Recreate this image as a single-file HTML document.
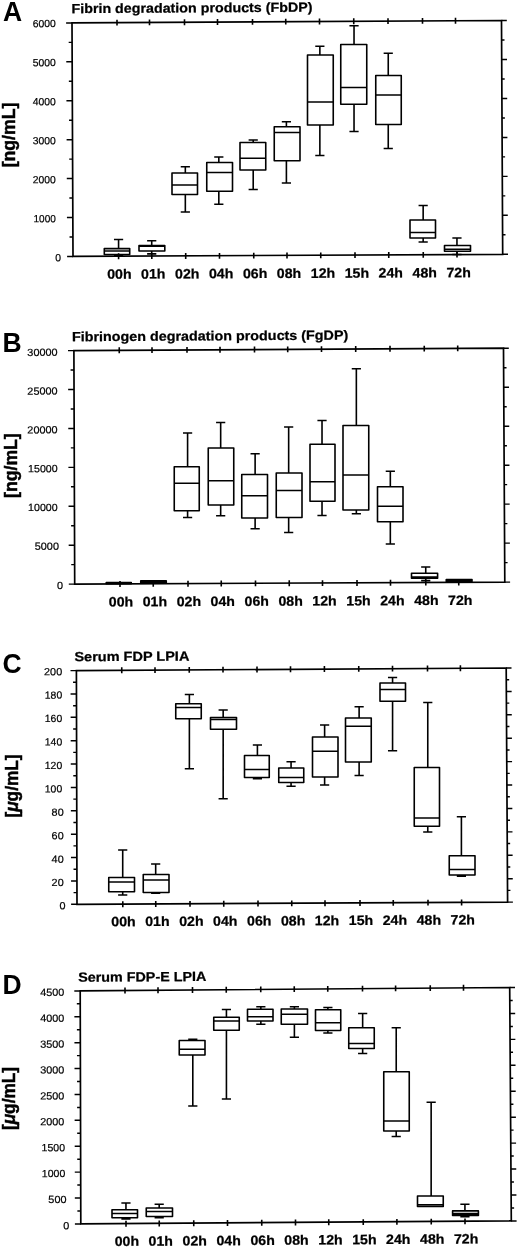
<!DOCTYPE html>
<html lang="en">
<head>
<meta charset="utf-8">
<title>Figure: FbDP, FgDP, Serum FDP LPIA, Serum FDP-E LPIA</title>
<style>
html,body{margin:0;padding:0;background:#fff;}
body{width:520px;height:1248px;overflow:hidden;}
svg{display:block;will-change:transform;filter:blur(0.35px);}
svg text{font-family:"Liberation Sans", Arial, Helvetica, sans-serif;fill:#000;}
</style>
</head>
<body>
<svg width="520" height="1248" viewBox="0 0 520 1248">
<rect x="0" y="0" width="520" height="1248" fill="#fff"/>
<g>
<path d="M72 22.9L501.5 20.5L502.7 254.3L73 256.4Z" fill="none" stroke="#000" stroke-width="1.7" stroke-linejoin="miter"/>
<path d="M67.1 256.4H73M502.7 254.3H508M69.52 236.94H72.92M502.6 234.82H505.5M66.93 217.48H72.83M502.5 215.33H507.8M69.35 198.02H72.75M502.4 195.85H505.3M66.77 178.57H72.67M502.3 176.37H507.6M69.18 159.11H72.58M502.2 156.88H505.1M66.6 139.65H72.5M502.1 137.4H507.4M69.02 120.19H72.42M502 117.92H504.9M66.43 100.73H72.33M501.9 98.43H507.2M68.85 81.28H72.25M501.8 78.95H504.7M66.27 61.82H72.17M501.7 59.47H507M68.68 42.36H72.08M501.6 39.98H504.5M66.1 22.9H72M501.5 20.5H506.8" fill="none" stroke="#000" stroke-width="1.45"/>
<path d="M117 19.65V25.55M118.6 253.37V259.27M149.5 19.47V25.37M151.8 253.21V259.11M184.5 19.27V25.17M185.7 253.05V258.95M217.5 19.09V24.99M219.5 252.88V258.78M252.5 18.89V24.79M253.75 252.71V258.61M285.75 18.71V24.61M287 252.55V258.45M319.5 18.52V24.42M320.75 252.39V258.29M353.75 18.33V24.23M355 252.22V258.12M388 18.14V24.04M388.75 252.05V257.95M422.5 17.94V23.84M423.25 251.89V257.79M455.5 17.76V23.66M457 251.72V257.62" fill="none" stroke="#000" stroke-width="1.6"/>
<path d="M104.3 248.6H129.7V254.5H104.3ZM104.3 251H129.7M118.57 248.6V239.5M113.97 239.5H123.17M118.57 254.5V255.8M113.97 255.8H123.17M139 245.5H164.8V251H139ZM139 246.2H164.8M151.72 245.5V240.7M147.12 240.7H156.32M151.72 251V253.9M147.12 253.9H156.32M172 173H197.5V194.5H172ZM172 185H197.5M185.33 173V166.75M180.73 166.75H189.93M185.33 194.5V212M180.73 212H189.93M206.75 162.5H232.5V191.25H206.75ZM206.75 172.5H232.5M218.82 162.5V157M214.22 157H223.42M218.82 191.25V204.25M214.22 204.25H223.42M240 142.5H265.75V170H240ZM240 158.25H265.75M253.21 142.5V140M248.61 140H257.81M253.21 170V189.5M248.61 189.5H257.81M274.25 126.75H300V160.75H274.25ZM274.25 132.5H300M286.4 126.75V121.75M281.8 121.75H291M286.4 160.75V183M281.8 183H291M307.5 55H333.25V125H307.5ZM307.5 102H333.25M319.86 55V46.25M315.26 46.25H324.46M319.86 125V155.5M315.26 155.5H324.46M340.75 44.5H366.75V104.25H340.75ZM340.75 87.5H366.75M354.03 44.5V25.75M349.43 25.75H358.63M354.03 104.25V131.5M349.43 131.5H358.63M375.75 75.5H401.25V124.5H375.75ZM375.75 95H401.25M388.25 75.5V53.25M383.65 53.25H392.85M388.25 124.5V148.5M383.65 148.5H392.85M410 220H435.5V238H410ZM410 232.5H435.5M423.16 220V205.5M418.56 205.5H427.76M423.16 238V242M418.56 242H427.76M444.5 245.5H470.5V251.25H444.5ZM444.5 249.25H470.5M456.95 245.5V238M452.35 238H461.55M456.95 251.25V254.5M452.35 254.5H461.55" fill="none" stroke="#000" stroke-width="1.6" stroke-linejoin="round"/>
<g font-size="10.4" text-anchor="end" stroke="#000" stroke-width="0.2"><text x="61.1" y="261.2" transform="rotate(-0.33 61.1 261.2)" textLength="5.8" lengthAdjust="spacingAndGlyphs">0</text><text x="55.9" y="222.18" transform="rotate(-0.33 55.9 222.18)" textLength="22.5" lengthAdjust="spacingAndGlyphs">1000</text><text x="55.9" y="183.15" transform="rotate(-0.33 55.9 183.15)" textLength="23.2" lengthAdjust="spacingAndGlyphs">2000</text><text x="55.9" y="144.12" transform="rotate(-0.33 55.9 144.12)" textLength="23.2" lengthAdjust="spacingAndGlyphs">3000</text><text x="55.9" y="105.1" transform="rotate(-0.33 55.9 105.1)" textLength="23.2" lengthAdjust="spacingAndGlyphs">4000</text><text x="55.9" y="66.08" transform="rotate(-0.33 55.9 66.08)" textLength="23.2" lengthAdjust="spacingAndGlyphs">5000</text><text x="55.9" y="27.05" transform="rotate(-0.33 55.9 27.05)" textLength="23.2" lengthAdjust="spacingAndGlyphs">6000</text></g>
<g font-size="13.6" font-weight="bold" text-anchor="middle" stroke="#000" stroke-width="0.25" transform="rotate(-0.262 110 278.8)"><text x="119.4" y="278.8" textLength="24.4" lengthAdjust="spacingAndGlyphs">00h</text><text x="153.33" y="278.8" textLength="24.4" lengthAdjust="spacingAndGlyphs">01h</text><text x="187.26" y="278.8" textLength="24.4" lengthAdjust="spacingAndGlyphs">02h</text><text x="221.19" y="278.8" textLength="24.4" lengthAdjust="spacingAndGlyphs">04h</text><text x="255.12" y="278.8" textLength="24.4" lengthAdjust="spacingAndGlyphs">06h</text><text x="289.05" y="278.8" textLength="24.4" lengthAdjust="spacingAndGlyphs">08h</text><text x="322.98" y="278.8" textLength="24.4" lengthAdjust="spacingAndGlyphs">12h</text><text x="356.91" y="278.8" textLength="24.4" lengthAdjust="spacingAndGlyphs">15h</text><text x="390.84" y="278.8" textLength="24.4" lengthAdjust="spacingAndGlyphs">24h</text><text x="424.77" y="278.8" textLength="24.4" lengthAdjust="spacingAndGlyphs">48h</text><text x="458.7" y="278.8" textLength="24.4" lengthAdjust="spacingAndGlyphs">72h</text></g>
<text x="71.5" y="13.2" font-size="13.3" font-weight="bold" stroke="#000" stroke-width="0.25" textLength="241" lengthAdjust="spacingAndGlyphs" transform="rotate(-0.35 71.5 13.2)">Fibrin degradation products (FbDP)</text>
<text transform="translate(3.1 20.9) scale(0.96 1)" font-size="27.6" font-weight="bold">A</text>
<text transform="translate(14.7 135) scale(1.07 1) rotate(-90)" font-size="17.2" font-weight="bold" stroke="#000" stroke-width="0.45" text-anchor="middle" textLength="64.7" lengthAdjust="spacingAndGlyphs">[ng/mL]</text>
</g>
<g>
<path d="M73.9 350.6L503.5 348.2L504.8 582.1L74.7 584.1Z" fill="none" stroke="#000" stroke-width="1.7" stroke-linejoin="miter"/>
<path d="M68.8 584.1H74.7M504.8 582.1H510.1M71.23 564.64H74.63M504.69 562.61H507.59M68.67 545.18H74.57M504.58 543.12H509.88M71.1 525.73H74.5M504.48 523.62H507.38M68.53 506.27H74.43M504.37 504.13H509.67M70.97 486.81H74.37M504.26 484.64H507.16M68.4 467.35H74.3M504.15 465.15H509.45M70.83 447.89H74.23M504.04 445.66H506.94M68.27 428.43H74.17M503.93 426.17H509.23M70.7 408.98H74.1M503.82 406.68H506.72M68.13 389.52H74.03M503.72 387.18H509.02M70.57 370.06H73.97M503.61 367.69H506.51M68 350.6H73.9M503.5 348.2H508.8" fill="none" stroke="#000" stroke-width="1.45"/>
<path d="M119.25 347.35V353.25M120 581.09V586.99M152 347.17V353.07M153.25 580.93V586.83M187 346.97V352.87M188 580.77V586.67M220 346.79V352.69M221.25 580.62V586.52M254.5 346.59V352.49M255.5 580.46V586.36M287.7 346.41V352.31M289.25 580.3V586.2M321.5 346.22V352.12M322.5 580.15V586.05M355.7 346.03V351.93M357 579.98V585.88M390 345.84V351.74M390.5 579.83V585.73M424.25 345.65V351.55M425.8 579.66V585.56M457.7 345.46V351.36M458.75 579.51V585.41" fill="none" stroke="#000" stroke-width="1.6"/>
<path d="M106.25 582.6H131.25V583.8H106.25ZM106.25 583.2H131.25M140.75 580.9H166.25V582.9H140.75ZM140.75 581.9H166.25M174.25 466.75H199.25V510.75H174.25ZM174.25 483.25H199.25M187.59 466.75V433M182.99 433H192.19M187.59 510.75V517.5M182.99 517.5H192.19M208.25 448H233.75V505H208.25ZM208.25 480.75H233.75M220.67 448V422.5M216.07 422.5H225.27M220.67 505V515.75M216.07 515.75H225.27M241.75 474.5H267.5V518H241.75ZM241.75 495.75H267.5M255.12 474.5V453.75M250.52 453.75H259.72M255.12 518V528.75M250.52 528.75H259.72M276.25 473H302V517.5H276.25ZM276.25 490.5H302M288.66 473V427M284.06 427H293.26M288.66 517.5V532.5M284.06 532.5H293.26M310 444.25H335V501.25H310ZM310 481.75H335M322.02 444.25V420.5M317.42 420.5H326.62M322.02 501.25V515.5M317.42 515.5H326.62M343 425.5H368.75V510H343ZM343 475H368.75M356.35 425.5V368.75M351.75 368.75H360.95M356.35 510V513.75M351.75 513.75H360.95M377.5 486.75H403V521.75H377.5ZM377.5 506.25H403M390.33 486.75V471.25M385.73 471.25H394.93M390.33 521.75V544M385.73 544H394.93M411.5 573.3H437.6V578.3H411.5ZM411.5 577H437.6M425.74 573.3V567M421.14 567H430.34M425.74 578.3V580.6M421.14 580.6H430.34M446.25 579.6H472V581.5H446.25ZM446.25 580.5H472" fill="none" stroke="#000" stroke-width="1.6" stroke-linejoin="round"/>
<g font-size="10.4" text-anchor="end" stroke="#000" stroke-width="0.2"><text x="63" y="588.9" transform="rotate(-0.33 63 588.9)" textLength="6.07" lengthAdjust="spacingAndGlyphs">0</text><text x="59" y="549.62" transform="rotate(-0.33 59 549.62)" textLength="24.28" lengthAdjust="spacingAndGlyphs">5000</text><text x="57.7" y="510.85" transform="rotate(-0.33 57.7 510.85)" textLength="29.65" lengthAdjust="spacingAndGlyphs">10000</text><text x="57.7" y="472.08" transform="rotate(-0.33 57.7 472.08)" textLength="29.65" lengthAdjust="spacingAndGlyphs">15000</text><text x="57.7" y="433.3" transform="rotate(-0.33 57.7 433.3)" textLength="30.35" lengthAdjust="spacingAndGlyphs">20000</text><text x="57.7" y="394.52" transform="rotate(-0.33 57.7 394.52)" textLength="30.35" lengthAdjust="spacingAndGlyphs">25000</text><text x="57.7" y="355.75" transform="rotate(-0.33 57.7 355.75)" textLength="30.35" lengthAdjust="spacingAndGlyphs">30000</text></g>
<g font-size="13.6" font-weight="bold" text-anchor="middle" stroke="#000" stroke-width="0.25" transform="rotate(-0.262 110 606.5)"><text x="121" y="606.5" textLength="24.4" lengthAdjust="spacingAndGlyphs">00h</text><text x="154.93" y="606.5" textLength="24.4" lengthAdjust="spacingAndGlyphs">01h</text><text x="188.86" y="606.5" textLength="24.4" lengthAdjust="spacingAndGlyphs">02h</text><text x="222.79" y="606.5" textLength="24.4" lengthAdjust="spacingAndGlyphs">04h</text><text x="256.72" y="606.5" textLength="24.4" lengthAdjust="spacingAndGlyphs">06h</text><text x="290.65" y="606.5" textLength="24.4" lengthAdjust="spacingAndGlyphs">08h</text><text x="324.58" y="606.5" textLength="24.4" lengthAdjust="spacingAndGlyphs">12h</text><text x="358.51" y="606.5" textLength="24.4" lengthAdjust="spacingAndGlyphs">15h</text><text x="392.44" y="606.5" textLength="24.4" lengthAdjust="spacingAndGlyphs">24h</text><text x="426.37" y="606.5" textLength="24.4" lengthAdjust="spacingAndGlyphs">48h</text><text x="460.3" y="606.5" textLength="24.4" lengthAdjust="spacingAndGlyphs">72h</text></g>
<text x="72" y="341.3" font-size="13.3" font-weight="bold" stroke="#000" stroke-width="0.25" textLength="276.3" lengthAdjust="spacingAndGlyphs" transform="rotate(-0.35 72 341.3)">Fibrinogen degradation products (FgDP)</text>
<text transform="translate(2.4 351.9) scale(0.96 1)" font-size="27.6" font-weight="bold">B</text>
<text transform="translate(17 465.6) scale(1.07 1) rotate(-90)" font-size="17.2" font-weight="bold" stroke="#000" stroke-width="0.45" text-anchor="middle" textLength="64.7" lengthAdjust="spacingAndGlyphs">[ng/mL]</text>
</g>
<g>
<path d="M76.4 670.6L506.2 668L507.6 902.1L77 904.3Z" fill="none" stroke="#000" stroke-width="1.7" stroke-linejoin="miter"/>
<path d="M71.1 904.3H77M507.6 902.1H512.9M73.57 892.62H76.97M507.53 890.39H510.43M71.04 880.93H76.94M507.46 878.69H512.76M73.51 869.25H76.91M507.39 866.99H510.29M70.98 857.56H76.88M507.32 855.28H512.62M73.45 845.88H76.85M507.25 843.58H510.15M70.92 834.19H76.82M507.18 831.87H512.48M73.39 822.5H76.79M507.11 820.16H510.01M70.86 810.82H76.76M507.04 808.46H512.34M73.33 799.13H76.73M506.97 796.75H509.87M70.8 787.45H76.7M506.9 785.05H512.2M73.27 775.76H76.67M506.83 773.35H509.73M70.74 764.08H76.64M506.76 761.64H512.06M73.21 752.39H76.61M506.69 749.93H509.59M70.68 740.71H76.58M506.62 738.23H511.92M73.15 729.02H76.55M506.55 726.52H509.45M70.62 717.34H76.52M506.48 714.82H511.78M73.09 705.65H76.49M506.41 703.12H509.31M70.56 693.97H76.46M506.34 691.41H511.64M73.03 682.29H76.43M506.27 679.71H509.17M70.5 670.6H76.4M506.2 668H511.5" fill="none" stroke="#000" stroke-width="1.45"/>
<path d="M121.75 667.33V673.23M122.8 901.26V907.16M155 667.13V673.03M155.75 901.1V907M189.25 666.92V672.82M190 900.92V906.82M223 666.72V672.62M223.75 900.75V906.65M257 666.51V672.41M258 900.57V906.47M290.5 666.31V672.21M291.75 900.4V906.3M324.4 666.1V672M325 900.23V906.13M358.75 665.9V671.8M360 900.05V905.95M392.5 665.69V671.59M393.25 899.88V905.78M427.5 665.48V671.38M428 899.7V905.6M460.4 665.28V671.18M461.6 899.53V905.43" fill="none" stroke="#000" stroke-width="1.6"/>
<path d="M108.75 877.5H134.5V891.75H108.75ZM108.75 882H134.5M122.71 877.5V850M118.11 850H127.31M122.71 891.75V895M118.11 895H127.31M143.25 874.5H169V892.5H143.25ZM143.25 880H169M155.68 874.5V864M151.08 864H160.28M155.68 892.5V893.25M151.08 893.25H160.28M175.75 703.75H201.25V718.75H175.75ZM175.75 707.5H201.25M189.38 703.75V694.5M184.78 694.5H193.98M189.38 718.75V768.75M184.78 768.75H193.98M210.5 717.5H236.5V729.25H210.5ZM210.5 719.5H236.5M223.17 717.5V710M218.57 710H227.77M223.17 729.25V798.75M218.57 798.75H227.77M244.5 755.5H269.25V777.5H244.5ZM244.5 769.5H269.25M257.41 755.5V745M252.81 745H262.01M257.41 777.5V778.75M252.81 778.75H262.01M278.75 768H303.75V782.5H278.75ZM278.75 777.5H303.75M291.06 768V761.75M286.46 761.75H295.66M291.06 782.5V786.25M286.46 786.25H295.66M312.5 737H338V777H312.5ZM312.5 751.25H338M324.62 737V725M320.02 725H329.22M324.62 777V785M320.02 785H329.22M345.5 718H371.25V762H345.5ZM345.5 726.25H371.25M359.12 718V706.75M354.52 706.75H363.72M359.12 762V775.5M354.52 775.5H363.72M380 683H405.5V701.25H380ZM380 689.5H405.5M392.57 683V677.5M387.97 677.5H397.17M392.57 701.25V750.75M387.97 750.75H397.17M414.25 767.5H439.5V826.25H414.25ZM414.25 818H439.5M427.77 767.5V702.5M423.17 702.5H432.37M427.77 826.25V832M423.17 832H432.37M449.25 855.75H475V875H449.25ZM449.25 869.5H475M461.4 855.75V816.75M456.8 816.75H466M461.4 875V876.25M456.8 876.25H466" fill="none" stroke="#000" stroke-width="1.6" stroke-linejoin="round"/>
<g font-size="10.4" text-anchor="end" stroke="#000" stroke-width="0.2"><text x="65.5" y="909.3" transform="rotate(-0.33 65.5 909.3)" textLength="6.05" lengthAdjust="spacingAndGlyphs">0</text><text x="63.7" y="886.06" transform="rotate(-0.33 63.7 886.06)" textLength="12.1" lengthAdjust="spacingAndGlyphs">20</text><text x="63.7" y="862.63" transform="rotate(-0.33 63.7 862.63)" textLength="12.1" lengthAdjust="spacingAndGlyphs">40</text><text x="63.7" y="839.19" transform="rotate(-0.33 63.7 839.19)" textLength="12.1" lengthAdjust="spacingAndGlyphs">60</text><text x="63.7" y="815.76" transform="rotate(-0.33 63.7 815.76)" textLength="12.1" lengthAdjust="spacingAndGlyphs">80</text><text x="62.2" y="792.33" transform="rotate(-0.33 62.2 792.33)" textLength="17.45" lengthAdjust="spacingAndGlyphs">100</text><text x="62.2" y="768.89" transform="rotate(-0.33 62.2 768.89)" textLength="17.45" lengthAdjust="spacingAndGlyphs">120</text><text x="62.2" y="745.46" transform="rotate(-0.33 62.2 745.46)" textLength="17.45" lengthAdjust="spacingAndGlyphs">140</text><text x="62.2" y="722.02" transform="rotate(-0.33 62.2 722.02)" textLength="17.45" lengthAdjust="spacingAndGlyphs">160</text><text x="62.2" y="698.59" transform="rotate(-0.33 62.2 698.59)" textLength="17.45" lengthAdjust="spacingAndGlyphs">180</text><text x="62.2" y="675.15" transform="rotate(-0.33 62.2 675.15)" textLength="18.15" lengthAdjust="spacingAndGlyphs">200</text></g>
<g font-size="13.6" font-weight="bold" text-anchor="middle" stroke="#000" stroke-width="0.25" transform="rotate(-0.295 110 926.3)"><text x="123.5" y="926.3" textLength="24.4" lengthAdjust="spacingAndGlyphs">00h</text><text x="157.43" y="926.3" textLength="24.4" lengthAdjust="spacingAndGlyphs">01h</text><text x="191.36" y="926.3" textLength="24.4" lengthAdjust="spacingAndGlyphs">02h</text><text x="225.29" y="926.3" textLength="24.4" lengthAdjust="spacingAndGlyphs">04h</text><text x="259.22" y="926.3" textLength="24.4" lengthAdjust="spacingAndGlyphs">06h</text><text x="293.15" y="926.3" textLength="24.4" lengthAdjust="spacingAndGlyphs">08h</text><text x="327.08" y="926.3" textLength="24.4" lengthAdjust="spacingAndGlyphs">12h</text><text x="361.01" y="926.3" textLength="24.4" lengthAdjust="spacingAndGlyphs">15h</text><text x="394.94" y="926.3" textLength="24.4" lengthAdjust="spacingAndGlyphs">24h</text><text x="428.87" y="926.3" textLength="24.4" lengthAdjust="spacingAndGlyphs">48h</text><text x="462.8" y="926.3" textLength="24.4" lengthAdjust="spacingAndGlyphs">72h</text></g>
<text x="74.4" y="661.3" font-size="13.3" font-weight="bold" stroke="#000" stroke-width="0.25" textLength="115" lengthAdjust="spacingAndGlyphs" transform="rotate(-0.35 74.4 661.3)">Serum FDP LPIA</text>
<text transform="translate(2.6 672.8) scale(0.96 1)" font-size="27.6" font-weight="bold">C</text>
<text transform="translate(17.8 786) scale(1.07 1) rotate(-90)" font-size="17.2" font-weight="bold" stroke="#000" stroke-width="0.45" text-anchor="middle" textLength="63.2" lengthAdjust="spacingAndGlyphs">[<tspan font-style="italic">μ</tspan>g/mL]</text>
</g>
<g>
<path d="M80.2 990.9L509.7 987.5L511.3 1220.9L80.8 1223.9Z" fill="none" stroke="#000" stroke-width="1.7" stroke-linejoin="miter"/>
<path d="M74.9 1223.9H80.8M511.3 1220.9H516.6M77.37 1210.96H80.77M511.21 1207.93H514.11M74.83 1198.01H80.73M511.12 1194.97H516.42M77.3 1185.07H80.7M511.03 1182H513.93M74.77 1172.12H80.67M510.94 1169.03H516.24M77.23 1159.18H80.63M510.86 1156.07H513.76M74.7 1146.23H80.6M510.77 1143.1H516.07M77.17 1133.29H80.57M510.68 1130.13H513.58M74.63 1120.34H80.53M510.59 1117.17H515.89M77.1 1107.4H80.5M510.5 1104.2H513.4M74.57 1094.46H80.47M510.41 1091.23H515.71M77.03 1081.51H80.43M510.32 1078.27H513.22M74.5 1068.57H80.4M510.23 1065.3H515.53M76.97 1055.62H80.37M510.14 1052.33H513.04M74.43 1042.68H80.33M510.06 1039.37H515.36M76.9 1029.73H80.3M509.97 1026.4H512.87M74.37 1016.79H80.27M509.88 1013.43H515.18M76.83 1003.84H80.23M509.79 1000.47H512.69M74.3 990.9H80.2M509.7 987.5H515" fill="none" stroke="#000" stroke-width="1.45"/>
<path d="M125 987.55V993.45M126 1220.78V1226.68M158 987.29V993.19M159.25 1220.55V1226.45M192.5 987.01V992.91M193.75 1220.31V1226.21M226.25 986.75V992.65M227.5 1220.07V1225.97M260.75 986.47V992.37M261.75 1219.84V1225.74M294.25 986.21V992.11M295.5 1219.6V1225.5M327.75 985.94V991.84M328.75 1219.37V1225.27M362.5 985.67V991.57M363.25 1219.13V1225.03M395.6 985.41V991.31M396.9 1218.89V1224.79M430.25 985.13V991.03M431.25 1218.65V1224.55M463.5 984.87V990.77M465 1218.42V1224.32" fill="none" stroke="#000" stroke-width="1.6"/>
<path d="M112 1209.75H137.5V1217.75H112ZM112 1213.5H137.5M125.96 1209.75V1203M121.36 1203H130.56M125.96 1217.75V1219M121.36 1219H130.56M146.25 1208H172.5V1216.5H146.25ZM146.25 1211.5H172.5M159.19 1208V1204.25M154.59 1204.25H163.79M159.19 1216.5V1217.75M154.59 1217.75H163.79M179.25 1040.5H205V1055H179.25ZM179.25 1049.25H205M192.8 1040.5V1039.25M188.2 1039.25H197.4M192.8 1055V1106M188.2 1106H197.4M213.75 1017.25H239.25V1030.25H213.75ZM213.75 1021H239.25M226.43 1017.25V1009.5M221.83 1009.5H231.03M226.43 1030.25V1099M221.83 1099H231.03M247.5 1009.25H273V1021H247.5ZM247.5 1016.75H273M260.85 1009.25V1006.75M256.25 1006.75H265.45M260.85 1021V1024.25M256.25 1024.25H265.45M281.25 1009H307.5V1024.25H281.25ZM281.25 1014.25H307.5M294.39 1009V1006.75M289.79 1006.75H298.99M294.39 1024.25V1037.25M289.79 1037.25H298.99M315.5 1009.75H340.75V1030.5H315.5ZM315.5 1022.75H340.75M327.88 1009.75V1007.5M323.28 1007.5H332.48M327.88 1030.5V1033M323.28 1033H332.48M348.75 1027.75H374.25V1048.5H348.75ZM348.75 1043.5H374.25M362.65 1027.75V1013.5M358.05 1013.5H367.25M362.65 1048.5V1053.5M358.05 1053.5H367.25M383.75 1071.75H409.25V1131H383.75ZM383.75 1121H409.25M396.22 1071.75V1027.75M391.62 1027.75H400.82M396.22 1131V1136.5M391.62 1136.5H400.82M417.5 1196H443.25V1206.5H417.5ZM417.5 1204.75H443.25M431.15 1196V1102.25M426.55 1102.25H435.75M452.6 1210.9H478.4V1215.4H452.6ZM452.6 1213.6H478.4M464.93 1210.9V1204.25M460.33 1204.25H469.53M464.93 1215.4V1216.8M460.33 1216.8H469.53" fill="none" stroke="#000" stroke-width="1.6" stroke-linejoin="round"/>
<g font-size="10.4" text-anchor="end" stroke="#000" stroke-width="0.2"><text x="69.4" y="1229.3" transform="rotate(-0.33 69.4 1229.3)" textLength="6.05" lengthAdjust="spacingAndGlyphs">0</text><text x="66.5" y="1202.91" transform="rotate(-0.33 66.5 1202.91)" textLength="18.15" lengthAdjust="spacingAndGlyphs">500</text><text x="65.3" y="1177.02" transform="rotate(-0.33 65.3 1177.02)" textLength="23.5" lengthAdjust="spacingAndGlyphs">1000</text><text x="65.1" y="1151.13" transform="rotate(-0.33 65.1 1151.13)" textLength="23.5" lengthAdjust="spacingAndGlyphs">1500</text><text x="64.4" y="1125.24" transform="rotate(-0.33 64.4 1125.24)" textLength="24.2" lengthAdjust="spacingAndGlyphs">2000</text><text x="64.4" y="1099.36" transform="rotate(-0.33 64.4 1099.36)" textLength="24.2" lengthAdjust="spacingAndGlyphs">2500</text><text x="64.4" y="1073.47" transform="rotate(-0.33 64.4 1073.47)" textLength="24.2" lengthAdjust="spacingAndGlyphs">3000</text><text x="64.4" y="1047.58" transform="rotate(-0.33 64.4 1047.58)" textLength="24.2" lengthAdjust="spacingAndGlyphs">3500</text><text x="64.4" y="1021.69" transform="rotate(-0.33 64.4 1021.69)" textLength="24.2" lengthAdjust="spacingAndGlyphs">4000</text><text x="64.4" y="995.8" transform="rotate(-0.33 64.4 995.8)" textLength="24.2" lengthAdjust="spacingAndGlyphs">4500</text></g>
<g font-size="13.6" font-weight="bold" text-anchor="middle" stroke="#000" stroke-width="0.25" transform="rotate(-0.393 110 1246)"><text x="126.9" y="1246" textLength="24.4" lengthAdjust="spacingAndGlyphs">00h</text><text x="160.83" y="1246" textLength="24.4" lengthAdjust="spacingAndGlyphs">01h</text><text x="194.76" y="1246" textLength="24.4" lengthAdjust="spacingAndGlyphs">02h</text><text x="228.69" y="1246" textLength="24.4" lengthAdjust="spacingAndGlyphs">04h</text><text x="262.62" y="1246" textLength="24.4" lengthAdjust="spacingAndGlyphs">06h</text><text x="296.55" y="1246" textLength="24.4" lengthAdjust="spacingAndGlyphs">08h</text><text x="330.48" y="1246" textLength="24.4" lengthAdjust="spacingAndGlyphs">12h</text><text x="364.41" y="1246" textLength="24.4" lengthAdjust="spacingAndGlyphs">15h</text><text x="398.34" y="1246" textLength="24.4" lengthAdjust="spacingAndGlyphs">24h</text><text x="432.27" y="1246" textLength="24.4" lengthAdjust="spacingAndGlyphs">48h</text><text x="466.2" y="1246" textLength="24.4" lengthAdjust="spacingAndGlyphs">72h</text></g>
<text x="78.2" y="981.8" font-size="13.3" font-weight="bold" stroke="#000" stroke-width="0.25" textLength="128.2" lengthAdjust="spacingAndGlyphs" transform="rotate(-0.35 78.2 981.8)">Serum FDP-E LPIA</text>
<text transform="translate(2.4 993.5) scale(0.96 1)" font-size="27.6" font-weight="bold">D</text>
<text transform="translate(15.3 1098.5) scale(1.07 1) rotate(-90)" font-size="17.2" font-weight="bold" stroke="#000" stroke-width="0.45" text-anchor="middle" textLength="63.2" lengthAdjust="spacingAndGlyphs">[<tspan font-style="italic">μ</tspan>g/mL]</text>
</g>
</svg>
</body>
</html>
